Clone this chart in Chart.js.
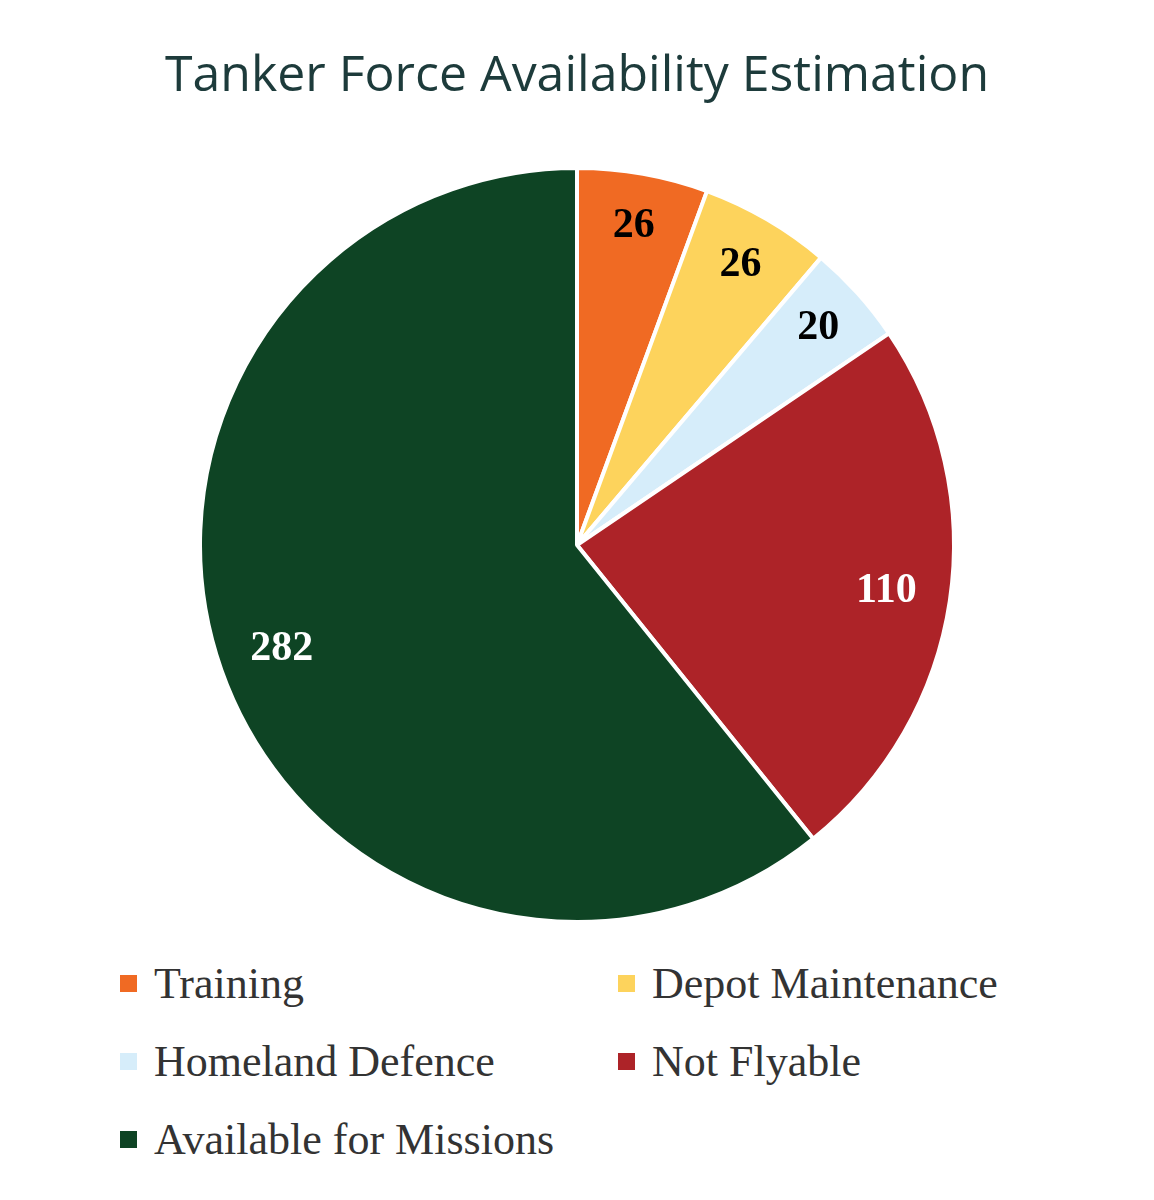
<!DOCTYPE html>
<html><head><meta charset="utf-8">
<script src="https://cdn.jsdelivr.net/npm/chart.js@4"></script>
<style>
body{margin:0;background:#fff;width:1154px;height:1200px;position:relative;overflow:hidden}
#title{position:absolute;top:38px;left:0;width:1154px;text-align:center;font-family:"Open Sans",sans-serif;font-size:50px;color:#1d3b3b;}
#wrap{position:absolute;top:160px;left:0;width:1154px;height:770px}
#legend{position:absolute;top:955px;left:120px;width:960px;display:grid;grid-template-columns:498px 460px;row-gap:22px;font-family:"Liberation Serif",serif;font-size:44px;color:#333}
.it{display:flex;align-items:center;height:56px}
.sw{width:17px;height:17px;margin-right:17px}
</style></head><body>
<div id="title">Tanker Force Availability Estimation</div>
<div id="wrap"><canvas id="c"></canvas></div>
<div id="legend"></div>
<script>
const categories=["Training","Depot Maintenance","Homeland Defence","Not Flyable","Available for Missions"];
const values=[26,26,20,110,282];
const colors=["#F06A23","#FDD35C","#D6EDFA","#AD2328","#0E4424"];
const labelColors=["#000","#000","#000","#fff","#fff"];
const lg=document.getElementById('legend');
categories.forEach((c,i)=>{const d=document.createElement('div');d.className='it';d.innerHTML='<div class="sw" style="background:'+colors[i]+'"></div>'+c;lg.appendChild(d);});
const labelPlugin={id:'lbl',afterDatasetsDraw(ch){const ctx=ch.ctx;const meta=ch.getDatasetMeta(0);
ctx.save();ctx.font='bold 42px "Liberation Serif", serif';ctx.textAlign='center';ctx.textBaseline='middle';
meta.data.forEach((a,i)=>{const p=a.getProps(['x','y','startAngle','endAngle','outerRadius'],true);
const m=(p.startAngle+p.endAngle)/2;const r=p.outerRadius*(values[i]>100?0.83:0.86);
ctx.fillStyle=labelColors[i];ctx.fillText(String(values[i]),p.x+Math.cos(m)*r,p.y+Math.sin(m)*r);});ctx.restore();}};
new Chart(document.getElementById('c'),{type:'pie',data:{labels:categories,datasets:[{data:values,backgroundColor:colors,borderColor:'#fff',borderWidth:4}]},
options:{responsive:true,maintainAspectRatio:false,animation:false,layout:{padding:6},plugins:{legend:{display:false},tooltip:{enabled:false}}},plugins:[labelPlugin]});
</script></body></html>
